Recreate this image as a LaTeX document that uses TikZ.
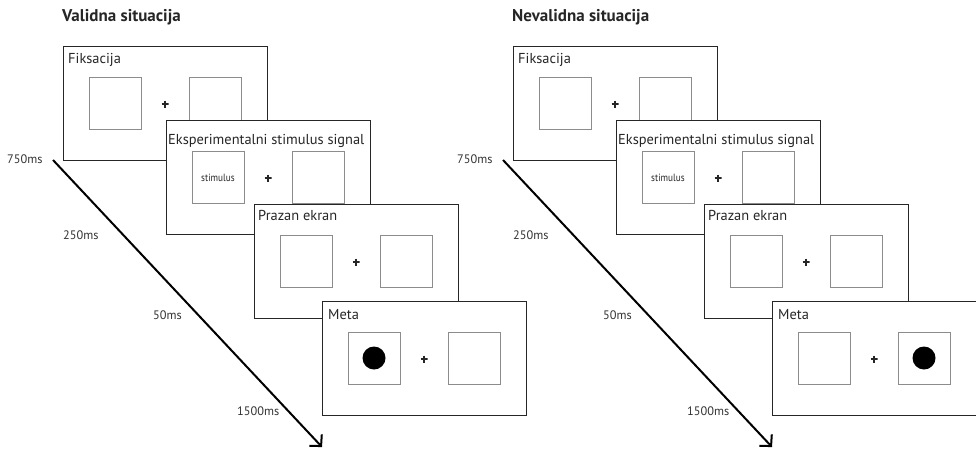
\documentclass[tikz,border=0pt]{standalone}
\usepackage{fontspec}
\setmainfont{PT Sans}
\usetikzlibrary{arrows.meta}
\tikzset{
 screen/.style={draw=black!85, line width=1.3pt, fill=white, minimum width=204pt, minimum height=114pt, anchor=north west, inner sep=0pt},
 cue/.style={draw=black!45, line width=0.9pt, minimum width=52pt, minimum height=52pt, inner sep=0pt},
 fixmark/.style={minimum size=7pt, inner sep=0pt, path picture={\draw[line width=1.6pt, black!85] (path picture bounding box.north) -- (path picture bounding box.south) (path picture bounding box.west) -- (path picture bounding box.east);}},
 lbl/.style={anchor=base west, inner sep=0pt, font=\fontsize{14.4}{15}\selectfont, text=black!85},
 tlbl/.style={anchor=base west, inner sep=0pt, font=\fontsize{12.3}{13}\selectfont, text=black!80},
 ttl/.style={anchor=base west, inner sep=0pt, font=\fontsize{17}{18}\selectfont\bfseries, text=black!85},
 stim/.style={inner sep=0pt, font=\fontsize{10.5}{11}\selectfont, xscale=0.88, text=black!85},
 target/.style={circle, fill=black, minimum size=23pt, inner sep=0pt},
 timeline/.style={line width=2pt, -{Straight Barb[length=8pt,width=17pt,line width=2pt]}}
}
\newcommand\screenset[6]{%
 \node[screen] (#1) at (#2,#3) {};
 \node[cue] (#1a) at ([shift={(52,57)}]#1.north west) {};
 \node[cue] (#1b) at ([shift={(152,57)}]#1.north west) {};
 \node[fixmark] (#1p) at ([shift={(102,58)}]#1.north west) {};
 \node[lbl] (#1t) at ([shift={(#5,#6)}]#1.north west) {#4};
}
\begin{document}
\begin{tikzpicture}[x=1pt,y=-1pt]
\useasboundingbox (0,0) rectangle (976,450);
% left panel
\node[ttl] (Ltitle) at (62,21) {Validna situacija};
\screenset{LA}{63}{46}{Fiksacija}{5}{17}
\screenset{LB}{166}{120}{Eksperimentalni stimulus signal}{2}{24}
\node[stim] (LBs) at ([yshift=-1pt]LBa.center) {stimulus};
\screenset{LC}{254}{204}{Prazan ekran}{4}{16}
\screenset{LD}{322}{301}{Meta}{6}{18}
\node[target] (LDdot) at (LDa.center) {};
\coordinate (Ls) at (53,160);
\coordinate (Le) at (322,447);
\draw[timeline] (Ls) -- (Le);
\node[tlbl] (L750) at (7,163) {750ms};
\node[tlbl] (L250) at (63,239) {250ms};
\node[tlbl] (L50) at (153,319) {50ms};
\node[tlbl] (L1500) at (237,415) {1500ms};
% right panel
\node[ttl] (Rtitle) at (512,21) {Nevalidna situacija};
\screenset{RA}{513}{46}{Fiksacija}{5}{17}
\screenset{RB}{616}{120}{Eksperimentalni stimulus signal}{2}{24}
\node[stim] (RBs) at ([yshift=-1pt]RBa.center) {stimulus};
\screenset{RC}{704}{204}{Prazan ekran}{4}{16}
\screenset{RD}{772}{301}{Meta}{6}{18}
\node[target] (RDdot) at (RDb.center) {};
\coordinate (Rs) at (503,160);
\coordinate (Re) at (772,447);
\draw[timeline] (Rs) -- (Re);
\node[tlbl] (R750) at (457,163) {750ms};
\node[tlbl] (R250) at (513,239) {250ms};
\node[tlbl] (R50) at (603,319) {50ms};
\node[tlbl] (R1500) at (687,415) {1500ms};
\end{tikzpicture}
\end{document}
